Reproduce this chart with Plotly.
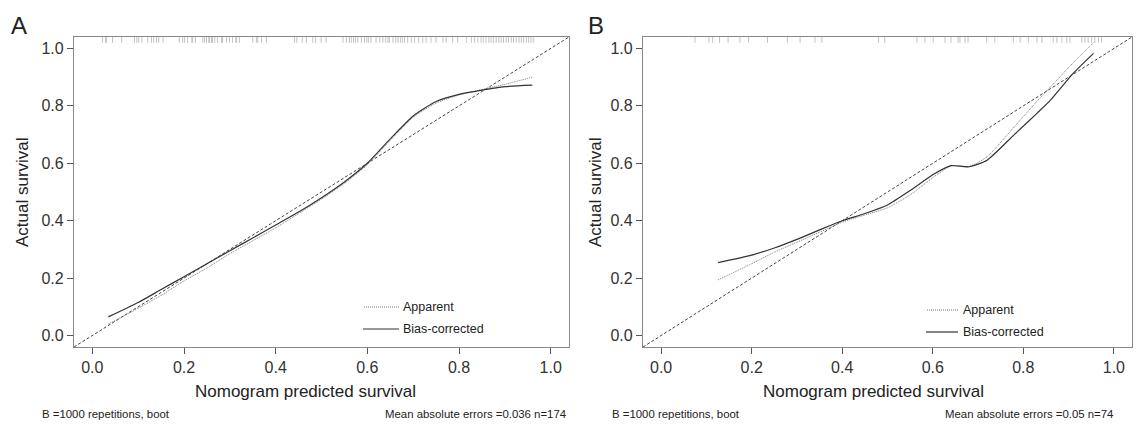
import plotly.graph_objects as go

# ---------------- data ----------------
# Panel A (n=174)
a_pred = [0.035, 0.10, 0.15, 0.20, 0.25, 0.30, 0.35, 0.40, 0.45, 0.50, 0.55, 0.60,
          0.65, 0.70, 0.75, 0.80, 0.85, 0.90, 0.96]
a_bias = [0.065, 0.115, 0.160, 0.205, 0.250, 0.295, 0.340, 0.385, 0.430, 0.480, 0.535, 0.600,
          0.685, 0.765, 0.815, 0.840, 0.855, 0.867, 0.872]
a_app = [0.040, 0.095, 0.140, 0.190, 0.235, 0.285, 0.330, 0.375, 0.425, 0.475, 0.530, 0.595,
         0.680, 0.760, 0.810, 0.838, 0.857, 0.875, 0.900]
a_rug = [0.022, 0.029, 0.031, 0.044, 0.064, 0.092, 0.097, 0.101, 0.108, 0.121, 0.129, 0.134,
         0.140, 0.145, 0.154, 0.190, 0.197, 0.201, 0.208, 0.217, 0.219, 0.225, 0.241, 0.245,
         0.249, 0.254, 0.256, 0.260, 0.262, 0.267, 0.273, 0.282, 0.284, 0.293, 0.299, 0.306,
         0.313, 0.315, 0.321, 0.350, 0.358, 0.361, 0.369, 0.380, 0.441, 0.446, 0.458, 0.467,
         0.481, 0.487, 0.499, 0.510, 0.547, 0.554, 0.561, 0.565, 0.570, 0.574, 0.579, 0.587,
         0.594, 0.599, 0.603, 0.608, 0.619, 0.627, 0.634, 0.640, 0.645, 0.648, 0.656, 0.662,
         0.667, 0.672, 0.676, 0.681, 0.688, 0.696, 0.703, 0.712, 0.721, 0.728, 0.739, 0.750,
         0.765, 0.772, 0.786, 0.797, 0.816, 0.827, 0.834, 0.841, 0.848, 0.853, 0.859, 0.865,
         0.870, 0.875, 0.881, 0.887, 0.892, 0.897, 0.903, 0.908, 0.914, 0.919, 0.925, 0.931,
         0.936, 0.941, 0.947, 0.952, 0.957, 0.962]
a_caption = "Mean absolute errors =0.036 n=174"

# Panel B (n=74)
b_pred = [0.126, 0.20, 0.25, 0.30, 0.35, 0.40, 0.45, 0.50, 0.55, 0.60, 0.64, 0.68, 0.72,
          0.78, 0.83, 0.86, 0.91, 0.955]
b_bias = [0.254, 0.280, 0.305, 0.335, 0.368, 0.400, 0.425, 0.455, 0.505, 0.560, 0.592, 0.588,
          0.611, 0.700, 0.774, 0.820, 0.913, 0.983]
b_app = [0.194, 0.250, 0.290, 0.325, 0.360, 0.395, 0.420, 0.445, 0.490, 0.550, 0.590, 0.588,
         0.623, 0.727, 0.816, 0.866, 0.950, 1.020]
b_rug = [0.075, 0.106, 0.114, 0.129, 0.148, 0.174, 0.193, 0.235, 0.279, 0.307, 0.340, 0.355,
         0.480, 0.494, 0.565, 0.583, 0.601, 0.627, 0.640, 0.656, 0.660, 0.671, 0.678, 0.719,
         0.737, 0.778, 0.793, 0.811, 0.830, 0.841, 0.866, 0.874, 0.885, 0.896, 0.903, 0.929,
         0.936, 0.943, 0.951, 0.958, 0.966, 0.973]
b_caption = "Mean absolute errors =0.05 n=74"

boot_caption = "B =1000 repetitions, boot"
axis_range = [-0.04, 1.04]
tick_vals = [0.0, 0.2, 0.4, 0.6, 0.8, 1.0]
tick_text = ["0.0", "0.2", "0.4", "0.6", "0.8", "1.0"]

# ---------------- layout geometry ----------------
W, H = 1136, 427
FONT = "Liberation Sans, Arial, Helvetica, sans-serif"


def px_x(p):
    return p / W


def px_y(p):
    return 1 - p / H


box_top, box_bot = 37, 347
dom_a = [px_x(74), px_x(569)]
dom_b = [px_x(643), px_x(1132)]
dom_y = [px_y(box_bot), px_y(box_top)]

fig = go.Figure()

panels = [
    ("x", "y", a_pred, a_bias, a_app),
    ("x2", "y2", b_pred, b_bias, b_app),
]
for xa, ya, pred, bias, app in panels:
    fig.add_trace(go.Scatter(x=axis_range, y=axis_range, mode="lines", xaxis=xa, yaxis=ya,
                             line=dict(color="#444444", width=1, dash="3px,2px"),
                             showlegend=False, hoverinfo="skip"))
    fig.add_trace(go.Scatter(x=pred, y=app, mode="lines", xaxis=xa, yaxis=ya,
                             line=dict(color="#777777", width=1, dash="1px,1px", shape="spline",
                                       smoothing=0.6),
                             showlegend=False, name="Apparent"))
    fig.add_trace(go.Scatter(x=pred, y=bias, mode="lines", xaxis=xa, yaxis=ya,
                             line=dict(color="#333333", width=1.2, shape="spline", smoothing=0.6),
                             showlegend=False, name="Bias-corrected"))

shapes = []
for xr, rug in (("x", a_rug), ("x2", b_rug)):
    yr = "y domain" if xr == "x" else "y2 domain"
    for v in rug:
        shapes.append(dict(type="line", xref=xr, yref=yr, x0=v, x1=v, y0=0.981, y1=1.0,
                           line=dict(color="#b5b5b5", width=0.8)))

# legend keys (drawn in paper pixels)
legend_rows = [
    # x0, x1, y, dotted?, text_x, label
    (364, 399, 307, True, 401, "Apparent"),
    (363, 399, 329, False, 401, "Bias-corrected"),
    (927, 958, 310, True, 961, "Apparent"),
    (926, 958, 332, False, 961, "Bias-corrected"),
]
annotations = []
for x0, x1, y, dotted, tx, lab in legend_rows:
    shapes.append(dict(type="line", xref="paper", yref="paper", x0=px_x(x0), x1=px_x(x1),
                       y0=px_y(y), y1=px_y(y),
                       line=dict(color="#777777" if dotted else "#333333",
                                 width=1 if dotted else 1.2,
                                 dash="1px,1px" if dotted else "solid")))
    annotations.append(dict(text=lab, xref="paper", yref="paper", x=px_x(tx), y=px_y(y),
                            xanchor="left", yanchor="middle", showarrow=False,
                            font=dict(family=FONT, size=12.5, color="#222222")))


def ann(text, x, y, size, xanchor="center", angle=0):
    annotations.append(dict(text=text, xref="paper", yref="paper", x=px_x(x), y=px_y(y),
                            xanchor=xanchor, yanchor="middle", showarrow=False, textangle=angle,
                            font=dict(family=FONT, size=size, color="#222222")))


ann("A", 19, 26, 24)
ann("B", 596, 26, 24)
ann("Nomogram predicted survival", 305, 391, 17)
ann("Nomogram predicted survival", 873, 391, 17)
ann("Actual survival", 22, 192, 17, angle=-90)
ann("Actual survival", 595, 192, 17, angle=-90)
ann(boot_caption, 40, 414, 11.4, xanchor="left")
ann(a_caption, 568, 414, 11.4, xanchor="right")
ann(boot_caption, 610, 414, 11.4, xanchor="left")
ann(b_caption, 1115, 414, 11.4, xanchor="right")

axis_common = dict(range=axis_range, tickmode="array", tickvals=tick_vals, ticktext=tick_text,
                   ticks="outside", ticklen=6, tickcolor="#555555", tickwidth=1,
                   showline=True, linecolor="#888888", linewidth=1.2, mirror=True,
                   showgrid=False, zeroline=False,
                   tickfont=dict(family=FONT, size=16, color="#333333"))

fig.update_layout(
    width=W, height=H,
    margin=dict(l=0, r=0, t=0, b=0),
    paper_bgcolor="white", plot_bgcolor="white",
    showlegend=False,
    xaxis=dict(domain=dom_a, anchor="y", **axis_common),
    yaxis=dict(domain=dom_y, anchor="x", **axis_common),
    xaxis2=dict(domain=dom_b, anchor="y2", **axis_common),
    yaxis2=dict(domain=dom_y, anchor="x2", **axis_common),
    shapes=shapes,
    annotations=annotations,
)

fig.write_html("out.html")
